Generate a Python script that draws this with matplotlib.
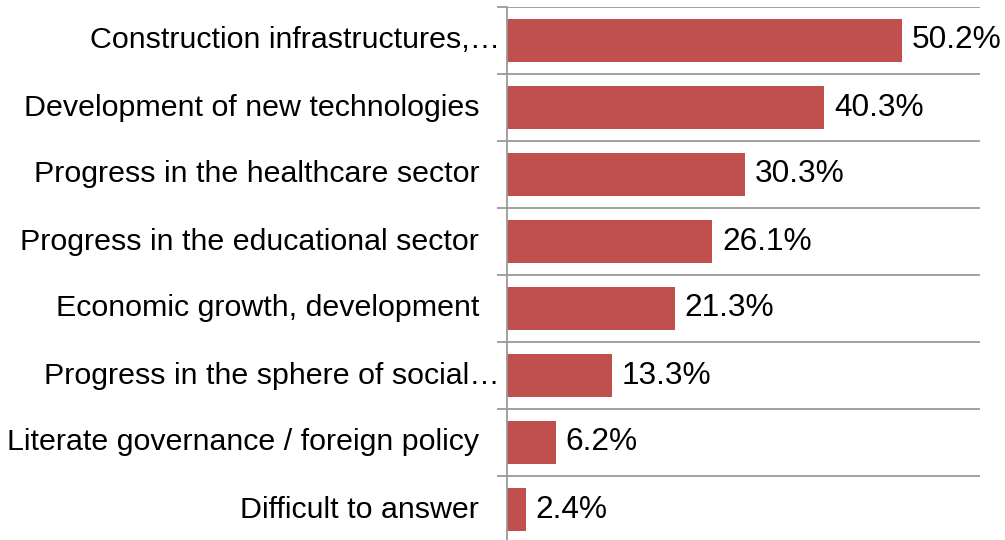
import numpy as np
import matplotlib.pyplot as plt
from matplotlib.transforms import blended_transform_factory, offset_copy

plt.rcParams['font.family'] = ['Liberation Sans', 'DejaVu Sans']

# Data (top to bottom as shown)
categories = [
    "Construction infrastructures,\u2026",
    "Development of new technologies",
    "Progress in the healthcare sector",
    "Progress in the educational sector",
    "Economic growth, development",
    "Progress in the sphere of social\u2026",
    "Literate governance / foreign policy",
    "Difficult to answer",
]
values = [50.2, 40.3, 30.3, 26.1, 21.3, 13.3, 6.2, 2.4]
truncated = [True, False, False, False, False, True, False, False]

bar_color = "#C0504D"
grid_color = "#9A9A9A"

fig = plt.figure(figsize=(10.05, 5.4), dpi=100)
ax = fig.add_axes([507 / 1005, -3 / 540, 473 / 1005, 536 / 540])

n = len(categories)
y = np.arange(n)[::-1]  # first category on top
ax.barh(y, values, height=0.64, color=bar_color, zorder=3)

ax.set_xlim(0, 60.1)
ax.set_ylim(-0.5, n - 0.5)

# value labels
for yi, v in zip(y, values):
    ax.annotate(f"{v:.1f}%", xy=(v, yi), xytext=(7, 0), textcoords="offset points",
                va="center", ha="left", fontsize=22.8, color="black")

# category labels
trans = blended_transform_factory(ax.transAxes, ax.transData)
for yi, lab, tr in zip(y, categories, truncated):
    dx = -5 if tr else -20
    ax.text(0, yi, lab, transform=offset_copy(trans, fig=fig, x=dx, y=0, units="points"),
            ha="right", va="center", fontsize=21.9, color="black")

# gridlines at category boundaries
bounds = np.arange(n + 1) - 0.5
ax.set_yticks(bounds)
ax.set_yticklabels([])
ax.tick_params(axis="y", length=7.5, width=1.3, color=grid_color, left=True)
ax.grid(axis="y", color=grid_color, linewidth=1.3, zorder=0)
ax.set_xticks([])

for s in ["top", "right", "bottom"]:
    ax.spines[s].set_visible(False)
ax.spines["left"].set_color(grid_color)
ax.spines["left"].set_linewidth(1.3)
ax.spines["left"].set_zorder(4)

fig.savefig("out.png", dpi=100)
